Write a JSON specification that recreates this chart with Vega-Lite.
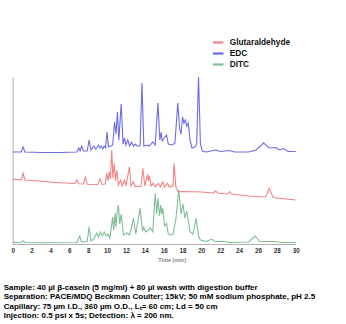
{
  "$schema": "https://vega.github.io/schema/vega-lite/v6.json",
  "autosize": "none",
  "width": 283,
  "height": 167,
  "padding": {"left": 12.7, "top": 77, "right": 50.3, "bottom": 80},
  "background": "white",
  "config": {"view": {"stroke": null}},
  "title": {
    "text": [
      "Sample: 40 µl β-casein (5 mg/ml) + 80 µl wash with digestion buffer",
      "Separation: PACE/MDQ Beckman Coulter; 15kV; 50 mM sodium phosphate, pH 2.5",
      "Capillary: 75 µm I.D., 360 µm O.D., Lₜ= 60 cm; Ld = 50 cm",
      "Injection: 0.5 psi x 5s; Detection: λ = 200 nm."
    ],
    "orient": "bottom",
    "anchor": "start",
    "frame": "group",
    "dx": -9,
    "offset": 21,
    "font": "Liberation Sans",
    "fontSize": 8,
    "fontWeight": "bold",
    "lineHeight": 9.5,
    "color": "#000000"
  },
  "data": {
    "values": [
      {"s": "EDC", "t": 0, "v": 92}, {"s": "EDC", "t": 0.9, "v": 92}, {"s": "EDC", "t": 1.1, "v": 97}, {"s": "EDC", "t": 1.3, "v": 92},
      {"s": "EDC", "t": 3, "v": 91.5}, {"s": "EDC", "t": 5, "v": 91.5}, {"s": "EDC", "t": 6.8, "v": 92}, {"s": "EDC", "t": 7.0, "v": 96},
      {"s": "EDC", "t": 7.15, "v": 93}, {"s": "EDC", "t": 7.3, "v": 98}, {"s": "EDC", "t": 7.5, "v": 93}, {"s": "EDC", "t": 7.9, "v": 93},
      {"s": "EDC", "t": 8.1, "v": 104}, {"s": "EDC", "t": 8.3, "v": 94}, {"s": "EDC", "t": 8.6, "v": 98}, {"s": "EDC", "t": 8.8, "v": 95},
      {"s": "EDC", "t": 9.1, "v": 99}, {"s": "EDC", "t": 9.25, "v": 96}, {"s": "EDC", "t": 9.4, "v": 98}, {"s": "EDC", "t": 9.55, "v": 95},
      {"s": "EDC", "t": 9.7, "v": 98}, {"s": "EDC", "t": 9.85, "v": 96}, {"s": "EDC", "t": 10.0, "v": 112}, {"s": "EDC", "t": 10.15, "v": 97},
      {"s": "EDC", "t": 10.4, "v": 98}, {"s": "EDC", "t": 10.6, "v": 99}, {"s": "EDC", "t": 10.8, "v": 122}, {"s": "EDC", "t": 10.95, "v": 110},
      {"s": "EDC", "t": 11.1, "v": 132}, {"s": "EDC", "t": 11.25, "v": 104}, {"s": "EDC", "t": 11.5, "v": 140}, {"s": "EDC", "t": 11.7, "v": 100},
      {"s": "EDC", "t": 11.85, "v": 106}, {"s": "EDC", "t": 12.0, "v": 99}, {"s": "EDC", "t": 12.2, "v": 104}, {"s": "EDC", "t": 12.4, "v": 98},
      {"s": "EDC", "t": 12.6, "v": 102}, {"s": "EDC", "t": 12.8, "v": 98}, {"s": "EDC", "t": 13.0, "v": 100}, {"s": "EDC", "t": 13.2, "v": 98},
      {"s": "EDC", "t": 13.5, "v": 98}, {"s": "EDC", "t": 13.7, "v": 161}, {"s": "EDC", "t": 13.9, "v": 98}, {"s": "EDC", "t": 14.3, "v": 99},
      {"s": "EDC", "t": 14.5, "v": 98}, {"s": "EDC", "t": 14.85, "v": 102}, {"s": "EDC", "t": 15.1, "v": 99}, {"s": "EDC", "t": 15.4, "v": 141},
      {"s": "EDC", "t": 15.6, "v": 104}, {"s": "EDC", "t": 15.75, "v": 112}, {"s": "EDC", "t": 15.85, "v": 103}, {"s": "EDC", "t": 16.0, "v": 105},
      {"s": "EDC", "t": 16.3, "v": 109}, {"s": "EDC", "t": 16.5, "v": 100}, {"s": "EDC", "t": 16.9, "v": 99}, {"s": "EDC", "t": 17.2, "v": 101},
      {"s": "EDC", "t": 17.5, "v": 141}, {"s": "EDC", "t": 17.7, "v": 115}, {"s": "EDC", "t": 17.85, "v": 110}, {"s": "EDC", "t": 18.0, "v": 127},
      {"s": "EDC", "t": 18.15, "v": 121}, {"s": "EDC", "t": 18.3, "v": 124}, {"s": "EDC", "t": 18.45, "v": 118}, {"s": "EDC", "t": 18.6, "v": 121},
      {"s": "EDC", "t": 18.8, "v": 104}, {"s": "EDC", "t": 19.0, "v": 96}, {"s": "EDC", "t": 19.3, "v": 97}, {"s": "EDC", "t": 19.5, "v": 100},
      {"s": "EDC", "t": 19.7, "v": 167}, {"s": "EDC", "t": 19.9, "v": 100}, {"s": "EDC", "t": 20.1, "v": 93}, {"s": "EDC", "t": 20.5, "v": 92},
      {"s": "EDC", "t": 21.5, "v": 94}, {"s": "EDC", "t": 22, "v": 92.5}, {"s": "EDC", "t": 23.0, "v": 93.5}, {"s": "EDC", "t": 23.5, "v": 92},
      {"s": "EDC", "t": 25, "v": 92}, {"s": "EDC", "t": 25.8, "v": 94}, {"s": "EDC", "t": 26.6, "v": 101}, {"s": "EDC", "t": 27.2, "v": 96},
      {"s": "EDC", "t": 27.9, "v": 96.5}, {"s": "EDC", "t": 28.3, "v": 94}, {"s": "EDC", "t": 28.7, "v": 95.5}, {"s": "EDC", "t": 29.2, "v": 92.5},
      {"s": "EDC", "t": 30, "v": 92.5},

      {"s": "Glutaraldehyde", "t": 0, "v": 64.7}, {"s": "Glutaraldehyde", "t": 0.9, "v": 64.2}, {"s": "Glutaraldehyde", "t": 1.1, "v": 71},
      {"s": "Glutaraldehyde", "t": 1.3, "v": 64}, {"s": "Glutaraldehyde", "t": 3, "v": 62.7}, {"s": "Glutaraldehyde", "t": 5, "v": 61.3},
      {"s": "Glutaraldehyde", "t": 6.6, "v": 60.5}, {"s": "Glutaraldehyde", "t": 6.8, "v": 64}, {"s": "Glutaraldehyde", "t": 7.0, "v": 60.3},
      {"s": "Glutaraldehyde", "t": 7.5, "v": 60}, {"s": "Glutaraldehyde", "t": 7.7, "v": 67}, {"s": "Glutaraldehyde", "t": 7.9, "v": 59.8},
      {"s": "Glutaraldehyde", "t": 9.0, "v": 59.5}, {"s": "Glutaraldehyde", "t": 9.25, "v": 65}, {"s": "Glutaraldehyde", "t": 9.45, "v": 59.5},
      {"s": "Glutaraldehyde", "t": 9.8, "v": 60}, {"s": "Glutaraldehyde", "t": 9.97, "v": 70.7}, {"s": "Glutaraldehyde", "t": 10.1, "v": 63},
      {"s": "Glutaraldehyde", "t": 10.22, "v": 72.3}, {"s": "Glutaraldehyde", "t": 10.35, "v": 65}, {"s": "Glutaraldehyde", "t": 10.5, "v": 94},
      {"s": "Glutaraldehyde", "t": 10.62, "v": 66}, {"s": "Glutaraldehyde", "t": 10.75, "v": 80.7}, {"s": "Glutaraldehyde", "t": 10.9, "v": 63},
      {"s": "Glutaraldehyde", "t": 11.04, "v": 74}, {"s": "Glutaraldehyde", "t": 11.2, "v": 59}, {"s": "Glutaraldehyde", "t": 11.46, "v": 64},
      {"s": "Glutaraldehyde", "t": 11.6, "v": 58}, {"s": "Glutaraldehyde", "t": 11.85, "v": 64}, {"s": "Glutaraldehyde", "t": 12.0, "v": 58},
      {"s": "Glutaraldehyde", "t": 12.38, "v": 77.3}, {"s": "Glutaraldehyde", "t": 12.55, "v": 58}, {"s": "Glutaraldehyde", "t": 12.8, "v": 62.3},
      {"s": "Glutaraldehyde", "t": 13.0, "v": 57.5}, {"s": "Glutaraldehyde", "t": 13.6, "v": 57.5}, {"s": "Glutaraldehyde", "t": 13.8, "v": 75.7},
      {"s": "Glutaraldehyde", "t": 14.0, "v": 58}, {"s": "Glutaraldehyde", "t": 14.3, "v": 69.7}, {"s": "Glutaraldehyde", "t": 14.4, "v": 63},
      {"s": "Glutaraldehyde", "t": 14.5, "v": 68}, {"s": "Glutaraldehyde", "t": 14.65, "v": 58}, {"s": "Glutaraldehyde", "t": 14.9, "v": 60.7},
      {"s": "Glutaraldehyde", "t": 15.1, "v": 57.5}, {"s": "Glutaraldehyde", "t": 15.45, "v": 60.7}, {"s": "Glutaraldehyde", "t": 15.65, "v": 57.3},
      {"s": "Glutaraldehyde", "t": 15.9, "v": 62.3}, {"s": "Glutaraldehyde", "t": 16.1, "v": 57}, {"s": "Glutaraldehyde", "t": 16.4, "v": 60.7},
      {"s": "Glutaraldehyde", "t": 16.6, "v": 57}, {"s": "Glutaraldehyde", "t": 17.0, "v": 58}, {"s": "Glutaraldehyde", "t": 17.1, "v": 80.7},
      {"s": "Glutaraldehyde", "t": 17.3, "v": 57}, {"s": "Glutaraldehyde", "t": 17.55, "v": 52.3}, {"s": "Glutaraldehyde", "t": 18, "v": 52.5},
      {"s": "Glutaraldehyde", "t": 20, "v": 52}, {"s": "Glutaraldehyde", "t": 21.3, "v": 51}, {"s": "Glutaraldehyde", "t": 21.5, "v": 53},
      {"s": "Glutaraldehyde", "t": 21.8, "v": 50.8}, {"s": "Glutaraldehyde", "t": 22.8, "v": 50}, {"s": "Glutaraldehyde", "t": 23.0, "v": 52.3},
      {"s": "Glutaraldehyde", "t": 23.2, "v": 50}, {"s": "Glutaraldehyde", "t": 25, "v": 48}, {"s": "Glutaraldehyde", "t": 26.8, "v": 47},
      {"s": "Glutaraldehyde", "t": 27.2, "v": 55.7}, {"s": "Glutaraldehyde", "t": 27.6, "v": 46.5}, {"s": "Glutaraldehyde", "t": 29, "v": 45},
      {"s": "Glutaraldehyde", "t": 30, "v": 44},

      {"s": "DITC", "t": 0, "v": 1.5}, {"s": "DITC", "t": 0.9, "v": 1.5}, {"s": "DITC", "t": 1.1, "v": 3.3}, {"s": "DITC", "t": 1.3, "v": 1.5},
      {"s": "DITC", "t": 3, "v": 1.3}, {"s": "DITC", "t": 6.8, "v": 1.5}, {"s": "DITC", "t": 7.1, "v": 8}, {"s": "DITC", "t": 7.3, "v": 2},
      {"s": "DITC", "t": 7.9, "v": 2.5}, {"s": "DITC", "t": 8.1, "v": 17.3}, {"s": "DITC", "t": 8.3, "v": 3}, {"s": "DITC", "t": 8.6, "v": 5},
      {"s": "DITC", "t": 8.9, "v": 11}, {"s": "DITC", "t": 9.1, "v": 7}, {"s": "DITC", "t": 9.3, "v": 12}, {"s": "DITC", "t": 9.5, "v": 8},
      {"s": "DITC", "t": 9.7, "v": 12}, {"s": "DITC", "t": 9.9, "v": 8}, {"s": "DITC", "t": 10.1, "v": 10}, {"s": "DITC", "t": 10.3, "v": 6},
      {"s": "DITC", "t": 10.6, "v": 27}, {"s": "DITC", "t": 10.7, "v": 14}, {"s": "DITC", "t": 10.86, "v": 31}, {"s": "DITC", "t": 10.95, "v": 17},
      {"s": "DITC", "t": 11.05, "v": 29}, {"s": "DITC", "t": 11.2, "v": 39}, {"s": "DITC", "t": 11.35, "v": 20}, {"s": "DITC", "t": 11.5, "v": 30},
      {"s": "DITC", "t": 11.75, "v": 9}, {"s": "DITC", "t": 12.1, "v": 11}, {"s": "DITC", "t": 12.4, "v": 9}, {"s": "DITC", "t": 12.8, "v": 25.7},
      {"s": "DITC", "t": 13.05, "v": 10}, {"s": "DITC", "t": 13.5, "v": 35.7}, {"s": "DITC", "t": 13.75, "v": 13}, {"s": "DITC", "t": 13.9, "v": 17},
      {"s": "DITC", "t": 14.1, "v": 12}, {"s": "DITC", "t": 14.4, "v": 14}, {"s": "DITC", "t": 14.6, "v": 16}, {"s": "DITC", "t": 14.85, "v": 12},
      {"s": "DITC", "t": 15.1, "v": 50.7}, {"s": "DITC", "t": 15.25, "v": 30}, {"s": "DITC", "t": 15.4, "v": 45.7}, {"s": "DITC", "t": 15.55, "v": 28},
      {"s": "DITC", "t": 15.7, "v": 39}, {"s": "DITC", "t": 15.8, "v": 30}, {"s": "DITC", "t": 15.9, "v": 35.7}, {"s": "DITC", "t": 16.1, "v": 18},
      {"s": "DITC", "t": 16.3, "v": 20.7}, {"s": "DITC", "t": 16.5, "v": 10}, {"s": "DITC", "t": 16.7, "v": 9}, {"s": "DITC", "t": 17.0, "v": 10},
      {"s": "DITC", "t": 17.3, "v": 25}, {"s": "DITC", "t": 17.6, "v": 54}, {"s": "DITC", "t": 17.85, "v": 30}, {"s": "DITC", "t": 18.05, "v": 40},
      {"s": "DITC", "t": 18.25, "v": 26}, {"s": "DITC", "t": 18.45, "v": 33}, {"s": "DITC", "t": 18.8, "v": 12.3}, {"s": "DITC", "t": 19.1, "v": 10},
      {"s": "DITC", "t": 19.45, "v": 25.7}, {"s": "DITC", "t": 19.7, "v": 8}, {"s": "DITC", "t": 19.9, "v": 4}, {"s": "DITC", "t": 20.5, "v": 2.5},
      {"s": "DITC", "t": 21.1, "v": 4.7}, {"s": "DITC", "t": 21.5, "v": 2.5}, {"s": "DITC", "t": 22.5, "v": 2.5}, {"s": "DITC", "t": 23, "v": 1.5},
      {"s": "DITC", "t": 25.0, "v": 2}, {"s": "DITC", "t": 25.7, "v": 8}, {"s": "DITC", "t": 26.2, "v": 2.5}, {"s": "DITC", "t": 27.8, "v": 2.5},
      {"s": "DITC", "t": 28.5, "v": 1.5}, {"s": "DITC", "t": 30, "v": 1.5}
    ]
  },
  "mark": {"type": "line", "strokeWidth": 1.1, "opacity": 0.8},
  "encoding": {
    "x": {
      "field": "t", "type": "quantitative",
      "scale": {"domain": [0, 30], "nice": false, "zero": false},
      "axis": {
        "values": [0, 2, 4, 6, 8, 10, 12, 14, 16, 18, 20, 22, 24, 26, 28, 30],
        "title": "Time (min)",
        "titleX": 159,
        "titleFont": "Liberation Sans", "titleFontSize": 5.5, "titleFontWeight": "bold", "titleColor": "#888888", "titlePadding": 4,
        "labelFont": "Liberation Sans", "labelFontSize": 6.3, "labelFontWeight": "bold", "labelColor": "#333333", "labelPadding": 3,
        "ticks": false, "grid": false, "domainColor": "#b0b0b0", "domainWidth": 1, "labelFlush": false
      }
    },
    "y": {
      "field": "v", "type": "quantitative",
      "scale": {"domain": [0, 167], "nice": false, "zero": false},
      "axis": {"title": null, "labels": false, "ticks": false, "grid": false, "domainColor": "#b0b0b0", "domainWidth": 1}
    },
    "color": {
      "field": "s", "type": "nominal",
      "scale": {"domain": ["Glutaraldehyde", "EDC", "DITC"], "range": ["#f06464", "#4646e6", "#5fae78"]},
      "legend": {
        "title": null, "orient": "none", "legendX": 199, "legendY": -41,
        "symbolType": "stroke", "symbolSize": 110, "symbolStrokeWidth": 2.2,
        "labelFont": "Liberation Sans", "labelFontSize": 8.3, "labelFontWeight": "bold", "labelColor": "#111111",
        "labelOffset": 5, "rowPadding": -0.5
      }
    }
  }
}
